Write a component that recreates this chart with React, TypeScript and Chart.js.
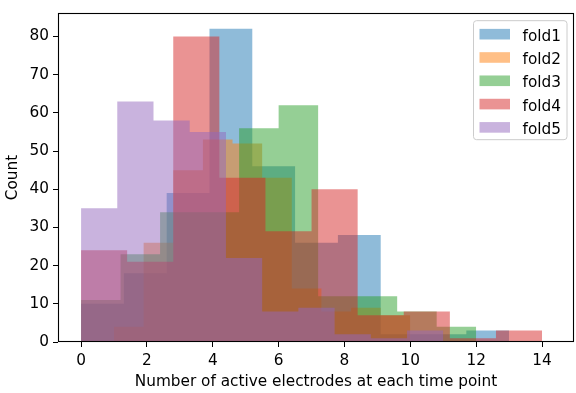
import React, { useEffect, useRef } from "react";
import { Chart, registerables } from "chart.js";

Chart.register(...registerables);

// ---- data (10 equal-width bins over each fold's [min, max]) ----
const foldLabels = ["fold1", "fold2", "fold3", "fold4", "fold5"];
const foldColors = [
  "rgba(31,119,180,0.5)",
  "rgba(255,127,14,0.5)",
  "rgba(44,160,44,0.5)",
  "rgba(214,39,40,0.5)",
  "rgba(148,103,189,0.5)",
];

const fold1Range = [0, 13];
const fold1Counts = [10, 18, 39, 82, 46, 26, 28, 2, 2, 3];

const fold2Range = [1, 10];
const fold2Counts = [4, 26, 45, 53, 52, 43, 14, 8, 9, 7];

const fold3Range = [0, 12];
const fold3Counts = [11, 23, 34, 34, 56, 62, 12, 12, 8, 4];

const fold4Range = [0, 14];
const fold4Counts = [24, 21, 80, 43, 29, 40, 7, 8, 1, 3];

const fold5Range = [0, 11];
const fold5Counts = [35, 63, 58, 55, 22, 8, 9, 2, 1, 3];

const xTicks = [0, 2, 4, 6, 8, 10, 12, 14];
const yTicks = [0, 10, 20, 30, 40, 50, 60, 70, 80];

const xTitle = "Number of active electrodes at each time point";
const yTitle = "Count";

const foldRanges = [fold1Range, fold2Range, fold3Range, fold4Range, fold5Range];
const foldCounts = [fold1Counts, fold2Counts, fold3Counts, fold4Counts, fold5Counts];

function histPoints(range: number[], counts: number[]) {
  const [lo, hi] = range;
  const n = counts.length;
  const w = (hi - lo) / n;
  const pts = counts.map((c, i) => ({ x: lo + i * w, y: c }));
  pts.push({ x: hi, y: counts[n - 1] });
  return pts;
}

const FONT = "DejaVu Sans";
const FSIZE = 15.3;

const framePlugin = {
  id: "frame",
  afterDatasetsDraw(chart: any) {
    const { ctx, chartArea: ca } = chart;
    ctx.save();
    ctx.strokeStyle = "#000";
    ctx.lineWidth = 1.1;
    ctx.strokeRect(
      Math.round(ca.left) + 0.5,
      Math.round(ca.top) + 0.5,
      Math.round(ca.right) - Math.round(ca.left) - 1,
      Math.round(ca.bottom) - Math.round(ca.top) - 1
    );
    ctx.restore();
  },
};

const legendPlugin = {
  id: "mplLegend",
  afterDraw(chart: any) {
    const { ctx, chartArea: ca } = chart;
    const boxW = 93.5;
    const boxH = 119;
    const right = ca.right - 7;
    const left = right - boxW;
    const top = ca.top + 7.5;
    const r = 3;
    ctx.save();
    ctx.beginPath();
    ctx.moveTo(left + r, top);
    ctx.lineTo(right - r, top);
    ctx.quadraticCurveTo(right, top, right, top + r);
    ctx.lineTo(right, top + boxH - r);
    ctx.quadraticCurveTo(right, top + boxH, right - r, top + boxH);
    ctx.lineTo(left + r, top + boxH);
    ctx.quadraticCurveTo(left, top + boxH, left, top + boxH - r);
    ctx.lineTo(left, top + r);
    ctx.quadraticCurveTo(left, top, left + r, top);
    ctx.closePath();
    ctx.fillStyle = "rgba(255,255,255,0.8)";
    ctx.fill();
    ctx.strokeStyle = "#cccccc";
    ctx.lineWidth = 1;
    ctx.stroke();

    ctx.font = `${FSIZE}px "${FONT}"`;
    ctx.textBaseline = "alphabetic";
    ctx.textAlign = "left";
    foldLabels.forEach((lab, i) => {
      const cy = top + 13.5 + i * 23.3;
      ctx.fillStyle = foldColors[i];
      ctx.fillRect(left + 6, cy - 5.3, 30.5, 10.6);
      ctx.fillStyle = "#000";
      ctx.fillText(lab, left + 49, cy + 6.5);
    });
    ctx.restore();
  },
};

export default function App() {
  const canvasRef = useRef<HTMLCanvasElement | null>(null);

  useEffect(() => {
    const canvas = canvasRef.current;
    if (!canvas) return;
    const tickFont = { family: FONT, size: FSIZE };
    const chart = new Chart(canvas, {
      type: "line",
      data: {
        datasets: foldLabels.map((label, i) => ({
          label,
          data: histPoints(foldRanges[i], foldCounts[i]),
          stepped: "before",
          fill: "origin",
          backgroundColor: foldColors[i],
          borderColor: "rgba(0,0,0,0)",
          borderWidth: 0,
          pointRadius: 0,
          pointHoverRadius: 0,
          order: foldLabels.length - i,
        })),
      } as any,
      options: {
        animation: false,
        responsive: false,
        maintainAspectRatio: false,
        devicePixelRatio: 1,
        events: [],
        layout: { padding: { top: 6, right: 2, left: 0, bottom: 0 } },
        plugins: {
          legend: { display: false },
          tooltip: { enabled: false },
        },
        scales: {
          x: {
            type: "linear",
            min: -0.7,
            max: 14.97,
            afterBuildTicks: (s: any) => {
              s.ticks = xTicks.map((v) => ({ value: v }));
            },
            afterFit: (s: any) => {
              s.height = 51;
            },
            ticks: {
              font: tickFont,
              color: "#000",
              padding: 5,
              maxRotation: 0,
              autoSkip: false,
            },
            grid: {
              display: true,
              drawOnChartArea: false,
              drawTicks: true,
              tickLength: 5,
              tickColor: "#000",
              tickWidth: 1,
            },
            border: { display: false },
            title: {
              display: true,
              text: xTitle,
              font: tickFont,
              color: "#000",
              padding: { top: 0, bottom: 2 },
            },
          },
          y: {
            type: "linear",
            min: 0,
            max: 86.1,
            afterBuildTicks: (s: any) => {
              s.ticks = yTicks.map((v) => ({ value: v }));
            },
            afterFit: (s: any) => {
              s.width = 58;
            },
            ticks: {
              font: tickFont,
              color: "#000",
              padding: 4,
              autoSkip: false,
            },
            grid: {
              display: true,
              drawOnChartArea: false,
              drawTicks: true,
              tickLength: 5,
              tickColor: "#000",
              tickWidth: 1,
            },
            border: { display: false },
            title: {
              display: true,
              text: yTitle,
              font: tickFont,
              color: "#000",
              padding: { top: 4, bottom: 0 },
            },
          },
        },
      } as any,
      plugins: [framePlugin, legendPlugin],
    });
    return () => chart.destroy();
  }, []);

  return (
    <div style={{ position: "fixed", left: 0, top: 0, width: 576, height: 393, background: "#fff" }}>
      <canvas ref={canvasRef} width={576} height={393} style={{ width: 576, height: 393, display: "block" }} />
    </div>
  );
}
